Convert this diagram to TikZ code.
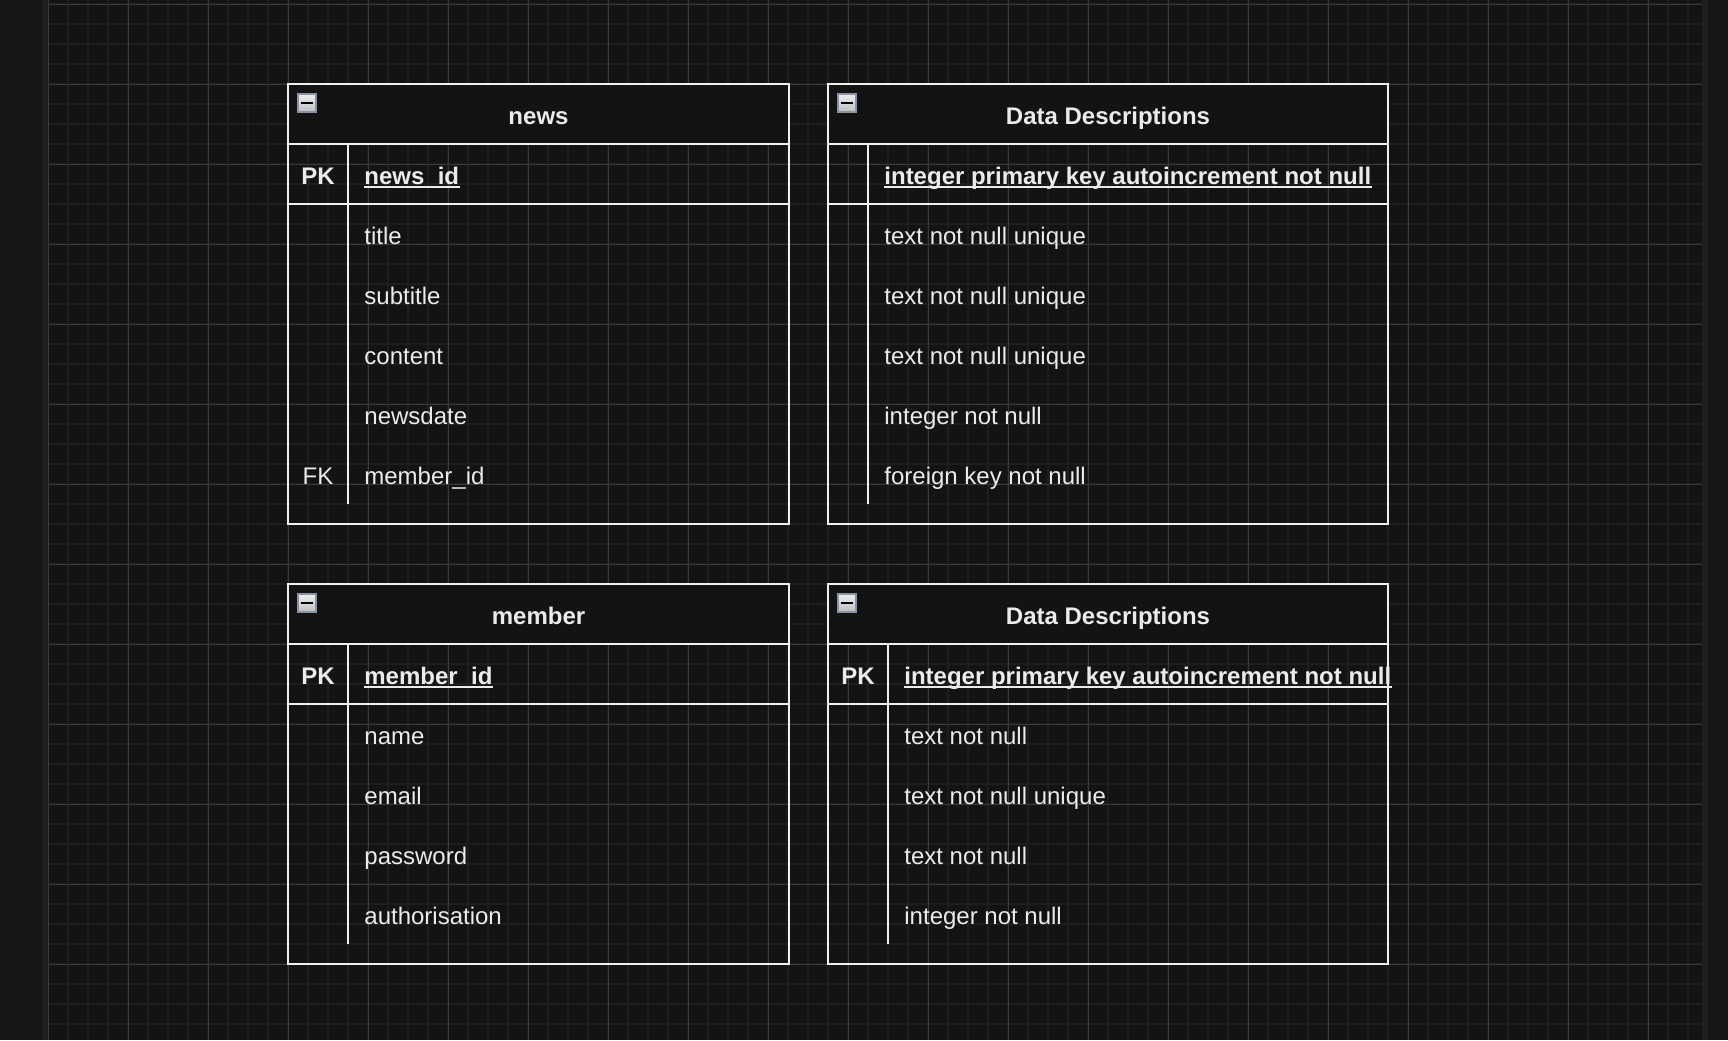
\documentclass[tikz,border=0pt]{standalone}
\usepackage{fontspec}
\setmainfont{Liberation Sans}
\usetikzlibrary{positioning}

\definecolor{canvas}{HTML}{131313}
\definecolor{frame}{HTML}{171717}
\definecolor{seam}{HTML}{1F1F1F}
\definecolor{fine}{HTML}{1E1E1E}
\definecolor{coarse}{HTML}{3A3A3A}
\definecolor{rule}{HTML}{F0F0F0}
\definecolor{ink}{HTML}{EBEBEB}
\definecolor{knob}{HTML}{8A93A3}

\tikzset{
  every node/.style={font=\fontsize{12pt}{14pt}\selectfont, text=ink, inner sep=0pt},
  tabline/.style={draw=rule, line width=1pt},
  caption/.style={anchor=base, font=\fontsize{12pt}{14pt}\selectfont\bfseries},
  keycell/.style={anchor=base},
  field/.style={anchor=base west},
  pkey/.style={font=\fontsize{12pt}{14pt}\selectfont\bfseries},
  uline/.style={draw=ink, line width=0.9pt},
  minus/.style={draw=knob, line width=1pt, top color=white!94!black, bottom color=white!74!black},
}

\begin{document}
\begin{tikzpicture}[x=0.5pt,y=-0.5pt]
\useasboundingbox (0,0) rectangle (1728,1040);

\fill[frame] (0,0) rectangle (1728,1040);
\fill[seam] (42,0) rectangle (1708,1040);
\fill[canvas] (48,0) rectangle (1702,1040);
\foreach \x in {48,68,...,1700} \draw[fine,line width=1pt] (\x,0) -- (\x,1040);
\foreach \y in {4,24,...,1040} \draw[fine,line width=1pt] (48,\y) -- (1702,\y);
\foreach \x in {48,128,...,1700} \draw[coarse,line width=0.5pt] (\x,0) -- (\x,1040);
\foreach \y in {4,84,...,1040} \draw[coarse,line width=0.5pt] (48,\y) -- (1702,\y);

\fill[canvas] (288,84) rectangle (789,144);
\draw[tabline] (288,84) rectangle (789,524);
\draw[tabline] (288,144) -- (789,144) (288,204) -- (789,204) (348,144) -- (348,504);
\draw[minus] (298,94) rectangle (316,112);
\fill[black] (301,102) rectangle (313,104);
\node[caption] (news) at (538.5,124) {news};
\node[keycell,pkey] (newsPK) at (318,184) {PK};
\node[field,pkey] (newsId) at (364,184) {news\_id};
\draw[uline] ([yshift=-1.4pt]newsId.base west) -- ([yshift=-1.4pt]newsId.base east);
\foreach \t [count=\i] in {title,subtitle,content,newsdate,member\_id}
  \node[field] (newsR\i) at (364,184+60*\i) {\t};
\node[keycell] (newsFK) at (318,484) {FK};

\fill[canvas] (828,84) rectangle (1388,144);
\draw[tabline] (828,84) rectangle (1388,524);
\draw[tabline] (828,144) -- (1388,144) (828,204) -- (1388,204) (868,144) -- (868,504);
\draw[minus] (838,94) rectangle (856,112);
\fill[black] (841,102) rectangle (853,104);
\node[caption] (newsDesc) at (1108,124) {Data Descriptions};
\node[field,pkey] (newsDescId) at (884,184) {integer primary key autoincrement not null};
\draw[uline] ([yshift=-1.4pt]newsDescId.base west) -- ([yshift=-1.4pt]newsDescId.base east);
\foreach \t [count=\i] in {text not null unique,text not null unique,text not null unique,integer not null,foreign key not null}
  \node[field] (newsDescR\i) at (884,184+60*\i) {\t};

\fill[canvas] (288,584) rectangle (789,644);
\draw[tabline] (288,584) rectangle (789,964);
\draw[tabline] (288,644) -- (789,644) (288,704) -- (789,704) (348,644) -- (348,944);
\draw[minus] (298,594) rectangle (316,612);
\fill[black] (301,602) rectangle (313,604);
\node[caption] (member) at (538.5,624) {member};
\node[keycell,pkey] (memberPK) at (318,684) {PK};
\node[field,pkey] (memberId) at (364,684) {member\_id};
\draw[uline] ([yshift=-1.4pt]memberId.base west) -- ([yshift=-1.4pt]memberId.base east);
\foreach \t [count=\i] in {name,email,password,authorisation}
  \node[field] (memberR\i) at (364,684+60*\i) {\t};

\fill[canvas] (828,584) rectangle (1388,644);
\draw[tabline] (828,584) rectangle (1388,964);
\draw[tabline] (828,644) -- (1388,644) (828,704) -- (1388,704) (888,644) -- (888,944);
\draw[minus] (838,594) rectangle (856,612);
\fill[black] (841,602) rectangle (853,604);
\node[caption] (memberDesc) at (1108,624) {Data Descriptions};
\node[keycell,pkey] (memberDescPK) at (858,684) {PK};
\node[field,pkey] (memberDescId) at (904,684) {integer primary key autoincrement not null};
\draw[uline] ([yshift=-1.4pt]memberDescId.base west) -- ([yshift=-1.4pt]memberDescId.base east);
\foreach \t [count=\i] in {text not null,text not null unique,text not null,integer not null}
  \node[field] (memberDescR\i) at (904,684+60*\i) {\t};
\end{tikzpicture}
\end{document}
